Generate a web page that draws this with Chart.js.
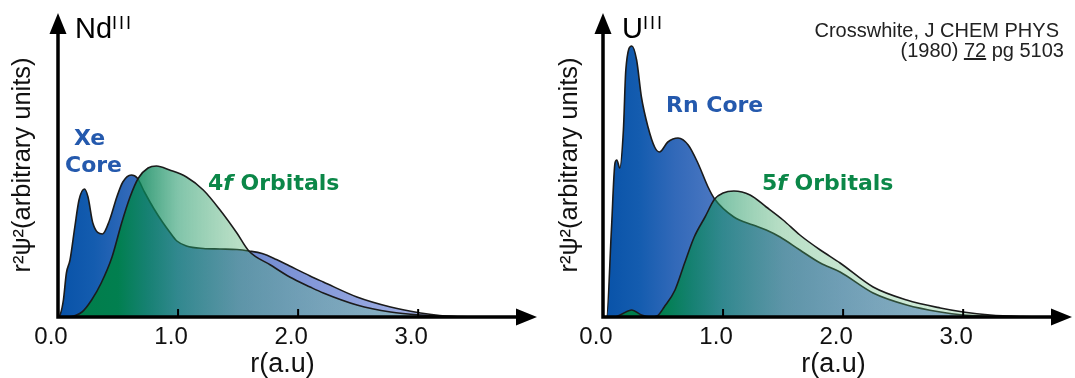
<!DOCTYPE html>
<html lang="en">
<head>
  <meta charset="UTF-8">
  <title>Radial distribution: Nd(III) vs U(III)</title>
  <script src="https://cdn.jsdelivr.net/npm/chart.js"></script>
  <style>
    body {
      margin: 0;
      width: 1075px;
      height: 378px;
      position: relative;
      overflow: hidden;
      background: #fff;
      font-family: "Liberation Sans", Arial, sans-serif;
    }
    .panel { position: absolute; top: 0; }
    #ndPanel { left: 0; }
    #uPanel { left: 540px; }

    /* text laid over the charts */
    .note { position: absolute; white-space: nowrap; line-height: 1; }
    .ion { font-size: 29px; color: #000; }
    .ion span { position: relative; top: -9px; font-size: 18px; letter-spacing: 2px; }
    .core, .orb { font-family: "DejaVu Sans", sans-serif; font-weight: bold; font-size: 22px; }
    .core { color: #2459ad; }
    .orb { color: #0b8748; }
    .cite { font-size: 20px; color: #222; }
  </style>
</head>
<body>
  <div class="panel" id="ndPanel"><canvas id="ndChart" width="540" height="378"></canvas></div>
  <div class="panel" id="uPanel"><canvas id="uChart" width="535" height="378"></canvas></div>

  <!-- Nd panel labels -->
  <div class="note ion" style="left:75px; top:13.5px;">Nd<span>III</span></div>
  <div class="note core" style="left:74px; top:126.5px;">Xe</div>
  <div class="note core" style="left:65px; top:153.5px;">Core</div>
  <div class="note orb" style="left:208px; top:171.5px;">4<i>f</i> Orbitals</div>

  <!-- U panel labels -->
  <div class="note ion" style="left:622px; top:13.5px;">U<span>III</span></div>
  <div class="note core" style="left:666px; top:93.5px;">Rn Core</div>
  <div class="note orb" style="left:762px; top:171.5px;">5<i>f</i> Orbitals</div>
  <div class="note cite" style="right:16px; top:20px;">Crosswhite, J CHEM PHYS</div>
  <div class="note cite" style="right:11px; top:40px;">(1980) <u>72</u> pg 5103</div>

  <script>
    // x ticks shared by both panels
    const xTicks = [0, 1, 2, 3];

    // Nd(III): Xe core density, r in a.u., height in arbitrary units
    const xeR = [0, 0.02, 0.045, 0.07, 0.1, 0.14, 0.175, 0.22, 0.25, 0.29, 0.37, 0.43, 0.49, 0.54, 0.61, 0.66,
                 0.72, 0.8, 0.87, 0.93, 0.99, 1.07, 1.21, 1.35, 1.49, 1.59, 1.7, 1.82, 1.93, 2.1, 2.21, 2.49, 2.77, 3.02, 3.18, 3.35];
    const xeH = [0, 3, 17, 44, 57, 90, 117, 128, 120, 94, 83, 97, 120, 135, 142, 139,
                 125, 108, 95, 85, 76, 71, 68.5, 68, 67.5, 66, 63.5, 57.5, 51, 41, 35, 20, 10, 4, 1.5, 0];

    // Nd(III): 4f orbitals
    const f4R = [0, 0.08, 0.2, 0.28, 0.36, 0.45, 0.53, 0.6, 0.67, 0.75, 0.82, 0.93, 1.07, 1.21, 1.35, 1.49,
                 1.59, 1.77, 1.93, 2.1, 2.21, 2.49, 2.77, 3.02, 3.25, 3.5];
    const f4H = [0, 0, 5, 17, 34, 60, 94, 120, 139, 149, 151, 147, 140, 127, 107, 84,
                 66, 52, 40, 30, 24, 12, 5, 2, 0.7, 0];

    // U(III): Rn core
    const rnR = [0, 0.03, 0.07, 0.1, 0.115, 0.14, 0.17, 0.19, 0.24, 0.28, 0.32, 0.375, 0.43, 0.47, 0.54, 0.625,
                 0.71, 0.79, 0.875, 0.93, 1.09, 1.25, 1.36, 1.475, 1.64, 1.81, 1.975, 2.25, 2.53, 2.81, 3.0, 3.2, 3.4];
    const rnH = [0, 0, 87, 154, 157, 149, 187, 247, 271, 257, 220, 190, 170, 165, 175, 179,
                 172, 154, 130, 118, 100, 92, 87, 80, 67, 54, 45, 24, 12, 5, 2, 0.7, 0];

    // U(III): 5f orbitals
    const f5R = [0, 0.1, 0.15, 0.24, 0.32, 0.4, 0.45, 0.51, 0.6, 0.68, 0.76, 0.85, 0.93, 1.0, 1.09, 1.225,
                 1.36, 1.5, 1.64, 1.81, 1.975, 2.25, 2.53, 2.81, 3.0, 3.225, 3.5, 3.75];
    const f5H = [0, 0, 2.5, 7, 2, 0, 1, 10, 27, 54, 80, 100, 118, 124, 126, 122,
                 110, 97, 82, 67, 54, 30, 17, 9, 5, 2, 0.5, 0];

    // horizontal colour ramps (r position, colour)
    const coreStops = [
      [0, 'rgb(8,82,168)'], [0.3, 'rgb(20,92,175)'], [0.6, 'rgb(50,105,185)'], [1.0, 'rgb(80,122,195)'],
      [1.6, 'rgb(112,138,208)'], [2.2, 'rgb(135,155,218)'], [3.0, 'rgb(160,175,228)'], [4, 'rgb(175,188,232)']
    ];
    const orbStops = [
      [0, 'rgba(0,125,72,1)'], [0.5, 'rgba(0,128,76,0.97)'], [0.75, 'rgba(10,135,90,0.75)'],
      [1.0, 'rgba(25,148,100,0.55)'], [1.5, 'rgba(70,170,105,0.38)'], [2.0, 'rgba(80,178,112,0.32)'],
      [3.0, 'rgba(100,190,130,0.3)'], [4, 'rgba(110,195,140,0.3)']
    ];

    Chart.defaults.font.family = '"Liberation Sans", Arial, sans-serif';
    Chart.defaults.color = '#111';

    const toPoints = (rs, hs) => rs.map((r, i) => ({ x: r, y: hs[i] }));

    const rampFill = (stops) => (ctx) => {
      const chart = ctx.chart;
      if (!chart.chartArea) return 'rgba(0,0,0,0)';
      const xs = chart.scales.x;
      const x0 = xs.getPixelForValue(0);
      const x1 = xs.getPixelForValue(4);
      const g = chart.ctx.createLinearGradient(x0, 0, x1, 0);
      stops.forEach(([r, c]) => g.addColorStop(r / 4, c));
      return g;
    };

    // black axes with arrow heads and small inward tick marks
    const axisArrows = {
      id: 'axisArrows',
      afterDatasetsDraw(chart, args, opts) {
        const { ctx, chartArea: a, scales: { x } } = chart;
        const x0 = a.left, y0 = a.bottom;
        const tipX = a.right + opts.extend;
        ctx.save();
        ctx.strokeStyle = '#000';
        ctx.fillStyle = '#000';
        ctx.lineWidth = 3.5;
        ctx.beginPath();
        ctx.moveTo(x0, a.top + 18);
        ctx.lineTo(x0, y0);
        ctx.lineTo(tipX - 18, y0);
        ctx.stroke();

        ctx.beginPath();
        ctx.moveTo(x0, a.top);
        ctx.lineTo(x0 - 8.5, a.top + 21);
        ctx.lineTo(x0 + 8.5, a.top + 21);
        ctx.closePath();
        ctx.fill();

        ctx.beginPath();
        ctx.moveTo(tipX, y0);
        ctx.lineTo(tipX - 21, y0 - 8.5);
        ctx.lineTo(tipX - 21, y0 + 8.5);
        ctx.closePath();
        ctx.fill();

        ctx.lineWidth = 2;
        x.ticks.forEach(t => {
          if (t.value === 0) return;
          const px = x.getPixelForValue(t.value);
          ctx.beginPath();
          ctx.moveTo(px, y0);
          ctx.lineTo(px, y0 - 8);
          ctx.stroke();
        });
        ctx.restore();
      }
    };

    const makeChart = (id, core, orb, cfg) => new Chart(document.getElementById(id), {
      type: 'line',
      data: {
        datasets: [
          {
            label: 'core', data: core, order: 1,
            fill: 'origin', backgroundColor: rampFill(coreStops),
            borderColor: '#1b1b1b', borderWidth: 1.6
          },
          {
            label: 'orbitals', data: orb, order: 0,
            fill: 'origin', backgroundColor: rampFill(orbStops),
            borderColor: '#1b1b1b', borderWidth: 1.6
          }
        ]
      },
      options: {
        responsive: false,
        animation: false,
        devicePixelRatio: 1,
        layout: { padding: { top: 13, right: cfg.padRight, left: 0, bottom: 0 } },
        elements: {
          point: { radius: 0 },
          line: { cubicInterpolationMode: 'monotone' }
        },
        plugins: {
          legend: { display: false },
          tooltip: { enabled: false },
          axisArrows: { extend: cfg.extend }
        },
        scales: {
          x: {
            type: 'linear',
            min: 0,
            max: cfg.xMax,
            afterBuildTicks: s => { s.ticks = xTicks.map(v => ({ value: v })); },
            afterFit: s => { s.height = 61; },
            grid: { display: false, drawTicks: false },
            border: { display: false },
            ticks: {
              font: { size: 24 },
              padding: 6,
              labelOffset: -7,
              maxRotation: 0,
              autoSkip: false,
              callback: v => Number(v).toFixed(1)
            },
            title: {
              display: true,
              text: 'r(a.u)',
              font: { size: 27, lineHeight: 1 },
              padding: { top: 0, bottom: 0 }
            }
          },
          y: {
            min: 0,
            max: 304,
            afterFit: s => { s.width = cfg.yWidth; },
            grid: { display: false },
            border: { display: false },
            ticks: { display: false },
            title: {
              display: true,
              text: 'r²ψ²(arbitrary units)',
              font: { size: 25.5 },
              padding: { top: cfg.titlePad, bottom: 0 }
            }
          }
        }
      },
      plugins: [axisArrows]
    });

    makeChart('ndChart', toPoints(xeR, xeH), toPoints(f4R, f4H),
      { xMax: 3.74, padRight: 33, extend: 30, yWidth: 58, titlePad: 8 });
    makeChart('uChart', toPoints(rnR, rnH), toPoints(f5R, f5H),
      { xMax: 3.84, padRight: 11, extend: 8, yWidth: 63, titlePad: 15 });
  </script>
</body>
</html>
